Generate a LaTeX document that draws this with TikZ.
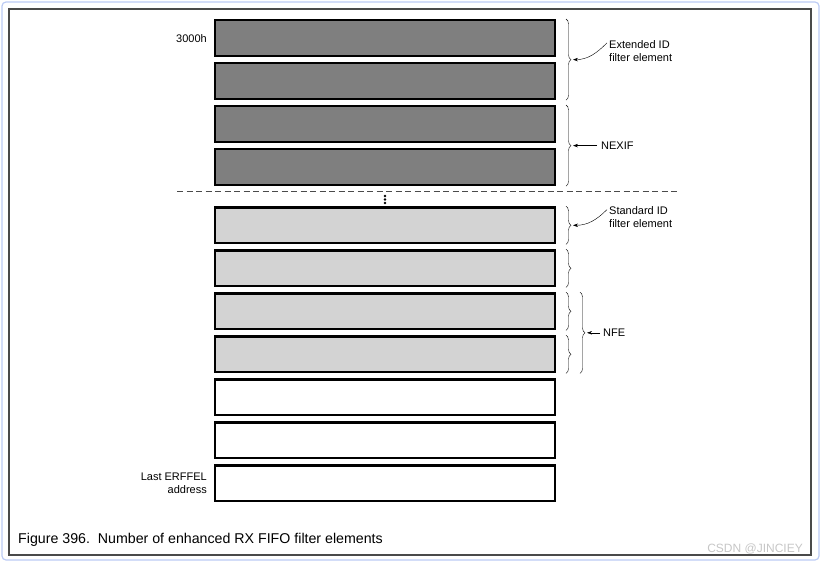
\documentclass[tikz,border=0pt]{standalone}
\usepackage{fontspec}
\setmainfont{Liberation Sans}
\usetikzlibrary{positioning, arrows.meta, decorations.pathreplacing}

\definecolor{extgray}{HTML}{7F7F7F}
\definecolor{stdgray}{HTML}{D3D3D3}
\definecolor{framegray}{HTML}{4A4A4A}
\definecolor{rimblue}{HTML}{BCCBF4}

\begin{document}
\begin{tikzpicture}[
    x=1pt, y=-1pt,
    node distance=4.8pt,
    every node/.style={font=\fontsize{11}{13}\selectfont},
    entry/.style={draw, line width=2.3pt, minimum width=339.7pt, minimum height=35.9pt, inner sep=0pt},
    extentry/.style={entry, fill=extgray},
    stdentry/.style={entry, fill=stdgray},
    freeentry/.style={entry, fill=white},
    brace/.style={draw, thin, decorate, decoration={brace, amplitude=5pt}},
    pointer/.style={draw, thin, -{Stealth[length=5pt, width=3.5pt]}},
    note/.style={inner sep=1pt, align=left},
]
  \useasboundingbox (0,0) rectangle (821,562);
  \draw[rimblue, line width=1.2pt, rounded corners=4pt] (2,2) rectangle (819,560);
  \draw[framegray, line width=2.5pt] (9,9) rectangle (811,555);

  % filter elements
  \node[extentry, anchor=north west] (r1) at (214,19) {};
  \node[extentry, below=of r1] (r2) {};
  \node[extentry, below=of r2] (r3) {};
  \node[extentry, below=of r3] (r4) {};
  \node[stdentry, below=20pt of r4] (r5) {};
  \node[stdentry, below=of r5] (r6) {};
  \node[stdentry, below=of r6] (r7) {};
  \node[stdentry, below=of r7] (r8) {};
  \node[freeentry, below=of r8] (r9) {};
  \node[freeentry, below=of r9] (r10) {};
  \node[freeentry, below=of r10] (r11) {};

  \draw[framegray, thin, dash pattern=on 6pt off 3.5pt] (177,191) -- (677,191);
  \foreach \d in {196,199.5,203} \fill (385,\d) circle (1.4pt);

  \node[left=6pt of r1, inner sep=1pt] (start) {3000h};
  \node[left=6pt of r11, inner sep=1pt, align=right] (last) {Last ERFFEL\\address};

  % braces
  \draw[brace] ([xshift=10pt]r1.north east) -- ([xshift=10pt]r2.south east)
    coordinate[midway, xshift=7pt] (extTip);
  \draw[brace] ([xshift=10pt]r3.north east) -- ([xshift=10pt]r4.south east)
    coordinate[midway, xshift=7pt] (nexTip);
  \draw[brace] ([xshift=10pt]r5.north east) -- ([xshift=10pt]r5.south east)
    coordinate[midway, xshift=7pt] (stdTip);
  \draw[brace] ([xshift=10pt]r6.north east) -- ([xshift=10pt]r6.south east);
  \draw[brace] ([xshift=10pt]r7.north east) -- ([xshift=10pt]r7.south east);
  \draw[brace] ([xshift=10pt]r8.north east) -- ([xshift=10pt]r8.south east);
  \draw[brace] ([xshift=24pt]r7.north east) -- ([xshift=24pt]r8.south east)
    coordinate[midway, xshift=7pt] (nfeTip);

  \node[note, anchor=west] (extLbl) at ([xshift=35pt, yshift=9pt]extTip) {Extended ID\\filter element};
  \node[note, right=27pt of nexTip] (nexLbl) {NEXIF};
  \node[note, anchor=west] (stdLbl) at ([xshift=35pt, yshift=8pt]stdTip) {Standard ID\\filter element};
  \node[note, right=15pt of nfeTip] (nfeLbl) {NFE};

  \draw[pointer] ([xshift=-1pt, yshift=-4pt]extLbl.north west) to[out=225, in=0] (extTip);
  \draw[pointer] ([xshift=-3pt]nexLbl.west) -- (nexTip);
  \draw[pointer] ([xshift=-1pt, yshift=-4pt]stdLbl.north west) to[out=225, in=0] (stdTip);
  \draw[pointer] ([xshift=-2pt]nfeLbl.west) -- (nfeTip);

  \node[anchor=base west, inner sep=0pt, font=\fontsize{14.2}{16}\selectfont] (caption) at (18,543)
    {Figure 396.\ \ Number of enhanced RX FIFO filter elements};
  \node[anchor=base east, inner sep=0pt, text=gray!45, font=\fontsize{12}{14}\selectfont] (mark) at (803,552)
    {CSDN @JINCIEY};
\end{tikzpicture}
\end{document}
